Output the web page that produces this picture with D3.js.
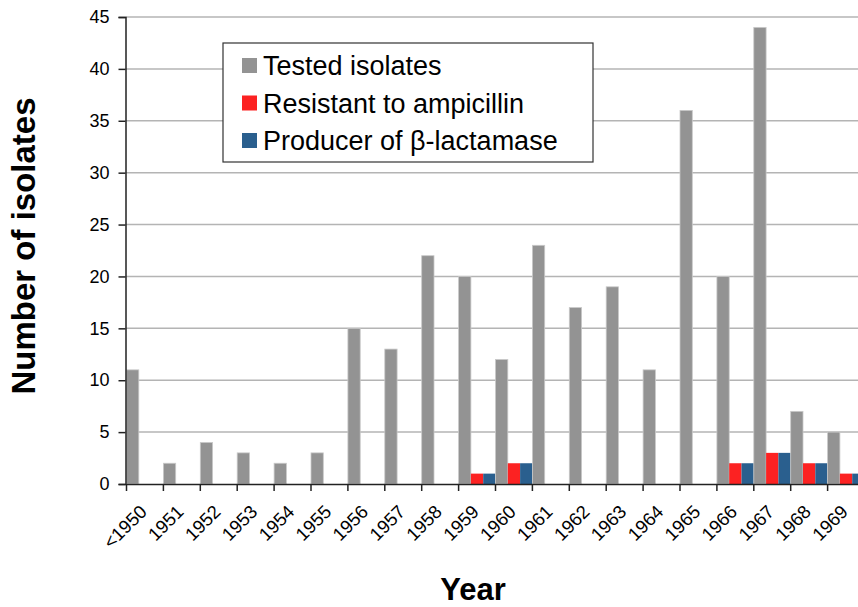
<!DOCTYPE html>
<html>
<head>
<meta charset="utf-8">
<script src="https://d3js.org/d3.v7.min.js"></script>
<style>
  body { margin: 0; background: #fff; }
  svg { font-family: "Liberation Sans", Arial, sans-serif; }
</style>
</head>
<body>
<div id="chart"></div>
<script>
// Data
var years = ["<1950", "1951", "1952", "1953", "1954", "1955", "1956", "1957", "1958", "1959",
             "1960", "1961", "1962", "1963", "1964", "1965", "1966", "1967", "1968", "1969"];
var tested    = [11, 2, 4, 3, 2, 3, 15, 13, 22, 20, 12, 23, 17, 19, 11, 36, 20, 44, 7, 5];
var resistant = [0, 0, 0, 0, 0, 0, 0, 0, 0, 1, 2, 0, 0, 0, 0, 0, 2, 3, 2, 1];
var producer  = [0, 0, 0, 0, 0, 0, 0, 0, 0, 1, 2, 0, 0, 0, 0, 0, 2, 3, 2, 1];
var seriesNames = ["Tested isolates", "Resistant to ampicillin", "Producer of \u03b2-lactamase"];
var seriesColors = ["#939393", "#fc2222", "#2a5f8e"];
var yTicks = [0, 5, 10, 15, 20, 25, 30, 35, 40, 45];

// SVG area
var svgWidth = 858;
var svgHeight = 607;

var plotLeft = 126.5;
var band = 36.9;
var plotTop = 17;
var plotBottom = 484;

var svg = d3.select("#chart")
    .append("svg")
    .attr("width", svgWidth)
    .attr("height", svgHeight);

// Scales
var xScale = d3.scaleBand()
    .domain(years)
    .range([plotLeft, plotLeft + band * years.length])
    .padding(0);

var xInner = d3.scaleBand()
    .domain([0, 1, 2])
    .range([0, xScale.bandwidth()])
    .padding(0);

var yScale = d3.scaleLinear()
    .domain([0, 45])
    .range([plotBottom, plotTop]);

// Gridlines
svg.append("g")
    .selectAll("line")
    .data(yTicks.filter(d => d > 0))
    .enter()
    .append("line")
    .attr("x1", plotLeft - 1)
    .attr("x2", svgWidth)
    .attr("y1", d => yScale(d))
    .attr("y2", d => yScale(d))
    .attr("stroke", "#b4b4b4")
    .attr("stroke-width", 1.5);

// Bars
var rows = years.map(function(y, i) {
    return { year: y, values: [tested[i], resistant[i], producer[i]] };
});

var groups = svg.append("g")
    .selectAll("g")
    .data(rows)
    .enter()
    .append("g")
    .attr("transform", d => `translate(${xScale(d.year)}, 0)`);

groups.selectAll("rect")
    .data(d => d.values.map((v, k) => ({ k: k, v: v })))
    .enter()
    .append("rect")
    .filter(d => d.v > 0)
    .attr("x", d => xInner(d.k))
    .attr("width", xInner.bandwidth())
    .attr("y", d => yScale(d.v))
    .attr("height", d => plotBottom - yScale(d.v))
    .attr("fill", d => seriesColors[d.k])
    .attr("stroke", d => d.k === 0 ? "#c9c9c9" : "none")
    .attr("stroke-width", 0.8);

// Y axis
var leftAxis = d3.axisLeft(yScale)
    .tickValues(yTicks)
    .tickSize(7)
    .tickPadding(9);

var yAxisG = svg.append("g")
    .attr("transform", `translate(${plotLeft - 1}, 0)`)
    .call(leftAxis);
yAxisG.select(".domain").attr("stroke", "#222").attr("stroke-width", 1.5);
yAxisG.selectAll(".tick line").attr("stroke", "#222").attr("stroke-width", 1.5);
yAxisG.selectAll(".tick text")
    .attr("font-size", 18)
    .attr("font-family", "Liberation Sans, Arial, sans-serif")
    .attr("fill", "#000");

// X axis
var bottomAxis = d3.axisBottom(xScale)
    .tickSize(0)
    .tickFormat("");

var xAxisG = svg.append("g")
    .attr("transform", `translate(0, ${plotBottom})`)
    .call(bottomAxis);
xAxisG.select(".domain").attr("stroke", "#222").attr("stroke-width", 1.5);

// tick marks at the band edges
svg.append("g")
    .selectAll("line")
    .data(years)
    .enter()
    .append("line")
    .attr("x1", d => xScale(d))
    .attr("x2", d => xScale(d))
    .attr("y1", plotBottom)
    .attr("y2", plotBottom + 7)
    .attr("stroke", "#222")
    .attr("stroke-width", 1.5);

// rotated year labels
svg.append("g")
    .selectAll("text")
    .data(years)
    .enter()
    .append("text")
    .attr("transform", d => `translate(${xScale(d) + xScale.bandwidth() / 2 + 3}, ${plotBottom + 29}) rotate(-45)`)
    .attr("text-anchor", "end")
    .attr("font-size", 18.5)
    .attr("fill", "#000")
    .text(d => d);

// Axis titles
svg.append("text")
    .attr("transform", "translate(35, 246) rotate(-90)")
    .attr("text-anchor", "middle")
    .attr("font-size", 33)
    .attr("font-weight", "bold")
    .text("Number of isolates");

svg.append("text")
    .attr("x", 473)
    .attr("y", 600)
    .attr("text-anchor", "middle")
    .attr("font-size", 31)
    .attr("font-weight", "bold")
    .text("Year");

// Legend
var legend = svg.append("g").attr("transform", "translate(223, 43)");
legend.append("rect")
    .attr("width", 370)
    .attr("height", 119)
    .attr("fill", "#fff")
    .attr("stroke", "#333")
    .attr("stroke-width", 1.2);

var legendItems = legend.selectAll("g")
    .data(seriesNames)
    .enter()
    .append("g")
    .attr("transform", (d, i) => `translate(19, ${15 + i * 37.5})`);

legendItems.append("rect")
    .attr("width", 15)
    .attr("height", 15)
    .attr("fill", (d, i) => seriesColors[i]);

legendItems.append("text")
    .attr("x", 21)
    .attr("y", 17)
    .attr("font-size", 27)
    .attr("fill", "#000")
    .text(d => d);
</script>
</body>
</html>
